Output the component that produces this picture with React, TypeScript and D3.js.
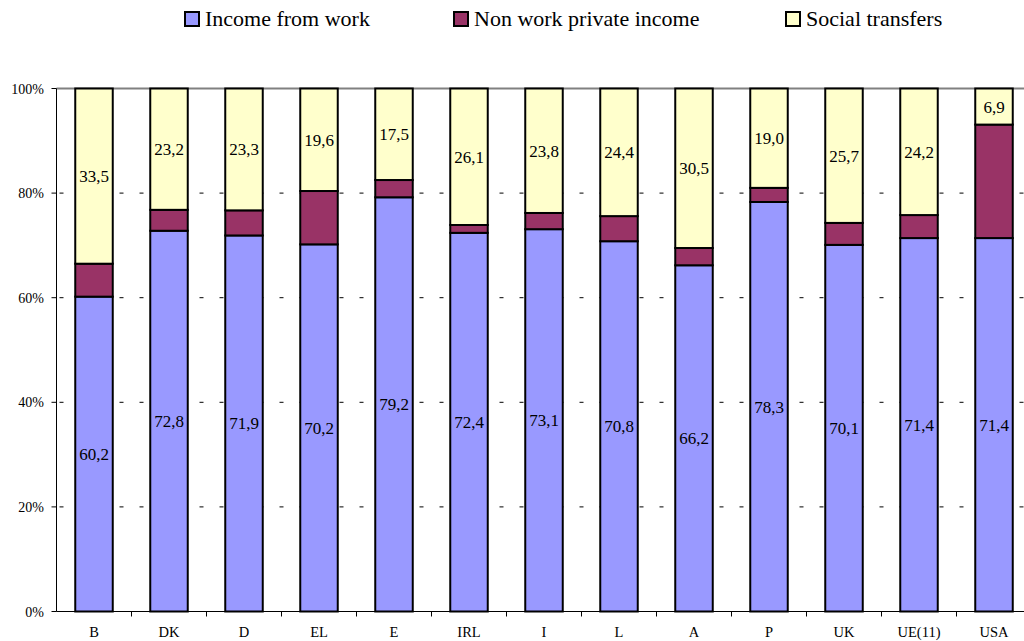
import React from "react";
import * as d3 from "d3";

const categories = ["B", "DK", "D", "EL", "E", "IRL", "I", "L", "A", "P", "UK", "UE(11)", "USA"];
const incomeFromWork = [60.2, 72.8, 71.9, 70.2, 79.2, 72.4, 73.1, 70.8, 66.2, 78.3, 70.1, 71.4, 71.4];
const nonWorkPrivate = [6.3, 4.0, 4.8, 10.2, 3.3, 1.5, 3.1, 4.8, 3.3, 2.7, 4.2, 4.4, 21.7];
const socialTransfers = [33.5, 23.2, 23.3, 19.6, 17.5, 26.1, 23.8, 24.4, 30.5, 19.0, 25.7, 24.2, 6.9];
const seriesNames = ["Income from work", "Non work private income", "Social transfers"];
const seriesColors = ["#9999FF", "#993366", "#FFFFCC"];
const yTicks = [0, 20, 40, 60, 80, 100];

const FONT = "'Liberation Serif', 'Times New Roman', serif";

export default function App() {
  const W = 1024, H = 641;
  const left = 56.5, right = 1031.5, top = 88.5, bottom = 611.5;
  const x = d3.scaleBand<string>().domain(categories).range([left, right]).paddingInner(0.5).paddingOuter(0.25);
  const y = d3.scaleLinear().domain([0, 100]).range([bottom, top]);
  const data = categories.map((c, i) => ({ cat: c, v: [incomeFromWork[i], nonWorkPrivate[i], socialTransfers[i]] }));
  const stack = d3.stack<any>().keys(["0", "1", "2"]).value((d: any, k: string) => d.v[+k]);
  const stacked = stack(data as any);
  const band = (right - left) / categories.length;
  const legendX = [185, 454, 786];

  return (
    <svg width={W} height={H} style={{ position: "absolute", left: 0, top: 0, fontFamily: FONT }}>
      <rect width={W} height={H} fill="white" />
      {seriesNames.map((n, i) => (
        <g key={n}>
          <rect x={legendX[i]} y={12} width={14} height={14} fill={seriesColors[i]} stroke="black" strokeWidth={2} />
          <text x={legendX[i] + 20} y={26} style={{ fontFamily: FONT, fontSize: "22px" }} fill="black">{n}</text>
        </g>
      ))}
      {yTicks.filter(t => t > 0 && t < 100).map(t => (
        <line key={t} x1={left} x2={right} y1={y(t)} y2={y(t)} stroke="black" strokeWidth={1} strokeDasharray="4 16" strokeDashoffset={-3} />
      ))}
      <line x1={left} x2={right} y1={y(100)} y2={y(100)} stroke="#808080" strokeWidth={2} />
      {stacked.map((s, si) => (
        <g key={si}>
          {s.map((d: any, i: number) => (
            <rect key={i} x={x(categories[i])!} y={y(d[1])} width={x.bandwidth()} height={y(d[0]) - y(d[1])}
              fill={seriesColors[si]} stroke="black" strokeWidth={2} />
          ))}
        </g>
      ))}
      {stacked.map((s, si) => si === 1 ? null : (
        <g key={"l" + si}>
          {s.map((d: any, i: number) => (
            <text key={i} x={x(categories[i])! + x.bandwidth() / 2} y={(y(d[0]) + y(d[1])) / 2 + 6}
              textAnchor="middle" style={{ fontFamily: FONT, fontSize: "17px" }} fill="black">{d3.format(".1f")(d[1] - d[0]).replace(".", ",")}</text>
          ))}
        </g>
      ))}
      <line x1={left} x2={left} y1={top} y2={bottom} stroke="black" strokeWidth={1} />
      <line x1={left} x2={right} y1={bottom} y2={bottom} stroke="black" strokeWidth={1} />
      {yTicks.map(t => (
        <g key={"t" + t}>
          <line x1={left - 5} x2={left} y1={y(t)} y2={y(t)} stroke="black" />
          <text x={44} y={y(t) + 5} textAnchor="end" style={{ fontFamily: FONT, fontSize: "14px" }} fill="black">{t}%</text>
        </g>
      ))}
      {categories.map((c, i) => (
        <g key={"c" + c}>
          {i > 0 && <line x1={left + i * band} x2={left + i * band} y1={bottom} y2={bottom + 5} stroke="black" />}
          <text x={x(c)! + x.bandwidth() / 2} y={637} textAnchor="middle" style={{ fontFamily: FONT, fontSize: "14.5px" }} fill="black">{c}</text>
        </g>
      ))}
    </svg>
  );
}
